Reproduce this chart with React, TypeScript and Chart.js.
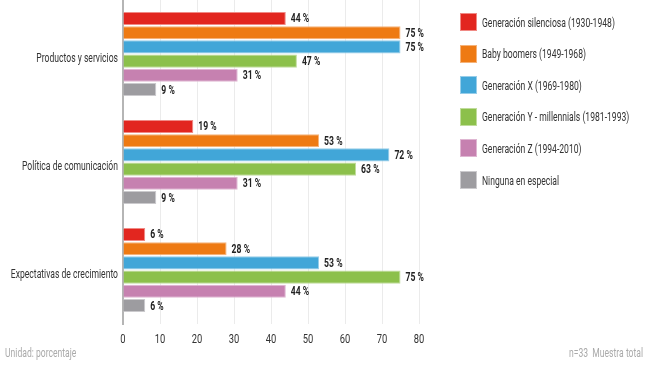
import React, { useEffect, useRef } from "react";
import { Chart, registerables } from "chart.js";

Chart.register(...registerables);

const categories = ["Productos y servicios", "Política de comunicación", "Expectativas de crecimiento"];
const seriesNames = [
  "Generación silenciosa (1930-1948)",
  "Baby boomers (1949-1968)",
  "Generación X (1969-1980)",
  "Generación Y - millennials (1981-1993)",
  "Generación Z (1994-2010)",
  "Ninguna en especial",
];
const silenciosa = [44, 19, 6];
const boomers = [75, 53, 28];
const genX = [75, 72, 53];
const genY = [47, 63, 75];
const genZ = [31, 31, 44];
const ninguna = [9, 9, 6];
const seriesValues = [silenciosa, boomers, genX, genY, genZ, ninguna];
const colors = ["#e2261f", "#ee7a13", "#41a6d8", "#8cc04b", "#c681b0", "#9d9ca0"];
const borderColors = ["#f08a85", "#f5b37a", "#97cde9", "#c0dc9c", "#dfb6d2", "#cbcacd"];
const xTicks = [0, 10, 20, 30, 40, 50, 60, 70, 80];

const FONT = "Roboto, 'Noto Sans', sans-serif";
const SX = 0.66;
const SX_VAL = 0.72;

function drawText(ctx: any, text: string, x: number, y: number, align: string, font: string, color: string, sx: number) {
  ctx.save();
  ctx.font = font;
  ctx.fillStyle = color;
  ctx.textAlign = align;
  ctx.textBaseline = "middle";
  ctx.translate(x, y);
  ctx.scale(sx, 1);
  ctx.fillText(text, 0, 0);
  ctx.restore();
}

const textPlugin = {
  id: "textPlugin",
  afterDatasetsDraw(chart: any) {
    const ctx = chart.ctx;
    chart.data.datasets.forEach((ds: any, i: number) => {
      const meta = chart.getDatasetMeta(i);
      meta.data.forEach((bar: any, j: number) => {
        drawText(ctx, `${ds.data[j]} %`, bar.x + 5, bar.y + 1, "left", `bold 12px ${FONT}`, "#222", SX_VAL);
      });
    });
    const y = chart.scales.y;
    chart.data.labels.forEach((lab: string, i: number) => {
      drawText(ctx, lab, y.right - 5, y.getPixelForValue(i) + 5, "right", `13px ${FONT}`, "#333", SX);
    });
    const x = chart.scales.x;
    xTicks.forEach((v) => {
      drawText(ctx, String(v), x.getPixelForValue(v), x.top + 16, "center", `13px ${FONT}`, "#333", 0.72);
    });
  },
};

export default function App() {
  const ref = useRef<HTMLCanvasElement>(null);
  useEffect(() => {
    document.body.style.margin = "0";
    const chart = new Chart(ref.current!, {
      type: "bar",
      data: {
        labels: categories,
        datasets: seriesNames.map((name, i) => ({
          label: name,
          data: seriesValues[i],
          backgroundColor: colors[i],
          borderColor: borderColors[i],
          borderWidth: 1,
          categoryPercentage: 0.79,
          barPercentage: 0.92,
        })),
      },
      options: {
        indexAxis: "y",
        responsive: false,
        animation: false,
        layout: { padding: { top: 0, right: 253, left: 0, bottom: 0 } },
        plugins: { legend: { display: false }, tooltip: { enabled: false } },
        scales: {
          x: {
            min: 0,
            max: 80,
            afterBuildTicks: (s: any) => {
              s.ticks = xTicks.map((v) => ({ value: v }));
            },
            afterFit: (s: any) => {
              s.height = 44;
            },
            grid: { color: "#ebebeb", lineWidth: 1, drawTicks: false },
            border: { display: false },
            ticks: { display: false },
          },
          y: {
            afterFit: (s: any) => {
              s.width = 123;
            },
            grid: { display: false, drawTicks: false },
            border: { display: true, color: "#b5b5b5", width: 2 },
            ticks: { display: false },
          },
        },
      },
      plugins: [textPlugin],
    });
    return () => chart.destroy();
  }, []);

  const cond = { display: "inline-block", transform: `scaleX(${SX})`, transformOrigin: "left center", whiteSpace: "nowrap" as const };

  return (
    <div style={{ position: "fixed", left: 0, top: 0, width: 672, height: 368, background: "#fff", fontFamily: FONT, overflow: "hidden" }}>
      <canvas ref={ref} width={672} height={368} style={{ position: "absolute", left: 0, top: 0 }} />
      {seriesNames.map((name, i) => (
        <div key={name} style={{ position: "absolute", left: 460, top: 13 + i * 31.6, height: 18, width: 210, display: "flex", alignItems: "center" }}>
          <div style={{ width: 17, height: 18, flex: "none", background: colors[i], border: `1px solid ${borderColors[i]}`, boxSizing: "border-box" }} />
          <span style={{ ...cond, marginLeft: 5, fontSize: 13, color: "#333" }}>{name}</span>
        </div>
      ))}
      <div style={{ position: "absolute", left: 5, top: 345, fontSize: 13, color: "#aaa" }}>
        <span style={cond}>Unidad: porcentaje</span>
      </div>
      <div style={{ position: "absolute", left: 569, top: 345, fontSize: 13, color: "#aaa" }}>
        <span style={cond}>n=33&nbsp; Muestra total</span>
      </div>
    </div>
  );
}
